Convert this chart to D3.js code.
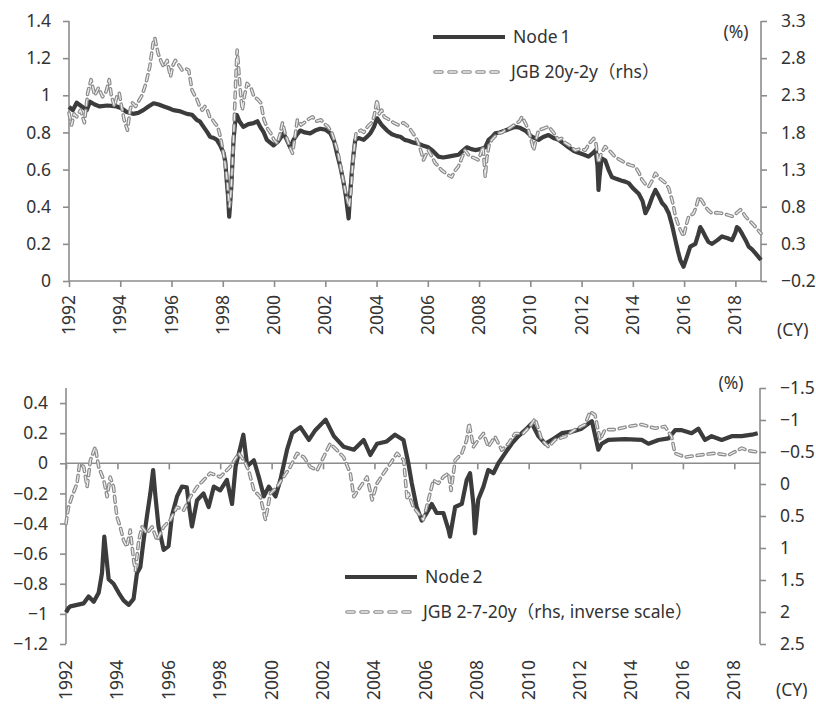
<!DOCTYPE html>
<html>
<head>
<meta charset="utf-8">
<script src="https://cdn.jsdelivr.net/npm/d3@7"></script>
<style>
  body { margin: 0; background: #fff; }
  svg { display: block; font-family: "Noto Sans", "Noto Sans CJK JP", sans-serif; }
</style>
</head>
<body>
<svg id="chart" width="816" height="704"></svg>
<script>
// ---------------- DATA ----------------
const yearTicks = [1992, 1994, 1996, 1998, 2000, 2002, 2004, 2006, 2008, 2010, 2012, 2014, 2016, 2018];

const topLeftTicks = [0, 0.2, 0.4, 0.6, 0.8, 1, 1.2, 1.4];
const topRightTicks = [-0.2, 0.3, 0.8, 1.3, 1.8, 2.3, 2.8, 3.3];
const bottomLeftTicks = [-1.2, -1, -0.8, -0.6, -0.4, -0.2, 0, 0.2, 0.4];
const bottomRightTicks = [-1.5, -1, -0.5, 0, 0.5, 1, 1.5, 2, 2.5];

const node1Dates = [1992.0,1992.15,1992.3,1992.5,1992.69,1992.82,1993.0,1993.2,1993.5,1993.86,1994.05,1994.25,1994.5,1994.7,1994.9,1995.1,1995.3,1995.5,1995.7,1995.9,1996.07,1996.3,1996.6,1996.8,1996.99,1997.1,1997.25,1997.4,1997.5,1997.65,1997.77,1997.9,1998.03,1998.1,1998.16,1998.21,1998.25,1998.29,1998.33,1998.38,1998.42,1998.48,1998.55,1998.65,1998.8,1999.0,1999.2,1999.35,1999.46,1999.6,1999.72,1999.85,1999.98,2000.15,2000.37,2000.5,2000.63,2000.76,2000.9,2001.02,2001.2,2001.41,2001.6,2001.8,2002.0,2002.2,2002.35,2002.45,2002.58,2002.7,2002.8,2002.91,2002.96,2003.03,2003.1,2003.17,2003.3,2003.5,2003.65,2003.76,2003.9,2004.02,2004.2,2004.41,2004.6,2004.8,2004.93,2005.1,2005.24,2005.45,2005.63,2005.8,2006.02,2006.2,2006.41,2006.6,2006.8,2007.0,2007.2,2007.35,2007.52,2007.7,2007.85,2008.05,2008.24,2008.37,2008.5,2008.63,2008.8,2009.02,2009.2,2009.41,2009.6,2009.8,2010.06,2010.32,2010.5,2010.71,2010.9,2011.1,2011.3,2011.49,2011.7,2011.88,2012.1,2012.27,2012.45,2012.55,2012.62,2012.66,2012.7,2012.78,2012.92,2013.05,2013.18,2013.35,2013.57,2013.7,2013.84,2014.0,2014.23,2014.38,2014.49,2014.62,2014.75,2014.88,2015.0,2015.14,2015.27,2015.4,2015.53,2015.66,2015.76,2015.85,2015.98,2016.11,2016.24,2016.44,2016.55,2016.63,2016.72,2016.83,2016.95,2017.09,2017.3,2017.48,2017.7,2017.87,2018.0,2018.06,2018.15,2018.26,2018.4,2018.52,2018.65,2018.78,2018.9,2019.0];
const node1Values = [0.937,0.92,0.96,0.94,0.92,0.965,0.95,0.94,0.945,0.94,0.93,0.91,0.90,0.905,0.92,0.94,0.957,0.95,0.94,0.93,0.92,0.915,0.90,0.895,0.867,0.86,0.83,0.80,0.777,0.77,0.76,0.73,0.69,0.64,0.53,0.45,0.346,0.42,0.5,0.65,0.76,0.85,0.894,0.86,0.83,0.845,0.85,0.86,0.83,0.80,0.76,0.745,0.73,0.75,0.795,0.76,0.72,0.76,0.79,0.81,0.80,0.795,0.81,0.82,0.815,0.795,0.75,0.69,0.62,0.54,0.46,0.337,0.45,0.58,0.68,0.76,0.77,0.76,0.78,0.795,0.83,0.876,0.84,0.81,0.79,0.78,0.777,0.76,0.755,0.745,0.74,0.73,0.72,0.70,0.67,0.665,0.67,0.675,0.68,0.70,0.72,0.71,0.705,0.71,0.72,0.76,0.775,0.795,0.80,0.81,0.82,0.83,0.825,0.81,0.777,0.76,0.775,0.786,0.77,0.76,0.74,0.72,0.70,0.69,0.68,0.67,0.69,0.705,0.62,0.49,0.56,0.66,0.65,0.6,0.56,0.55,0.54,0.535,0.527,0.5,0.47,0.43,0.365,0.40,0.45,0.49,0.46,0.42,0.40,0.365,0.30,0.22,0.16,0.113,0.077,0.13,0.185,0.20,0.25,0.29,0.27,0.24,0.21,0.20,0.22,0.24,0.23,0.22,0.26,0.29,0.28,0.255,0.22,0.185,0.17,0.15,0.13,0.113];

const jgb20y2yDates = [1992.0,1992.1,1992.2,1992.3,1992.45,1992.6,1992.73,1992.86,1993.0,1993.05,1993.15,1993.31,1993.45,1993.57,1993.65,1993.77,1993.88,1993.96,1994.05,1994.15,1994.28,1994.38,1994.47,1994.6,1994.73,1994.85,1995.0,1995.15,1995.28,1995.35,1995.42,1995.48,1995.6,1995.7,1995.83,1995.96,1996.05,1996.15,1996.3,1996.41,1996.55,1996.67,1996.8,1996.9,1997.0,1997.1,1997.2,1997.3,1997.4,1997.5,1997.6,1997.7,1997.8,1997.9,1997.98,1998.08,1998.17,1998.26,1998.32,1998.37,1998.44,1998.5,1998.56,1998.6,1998.63,1998.7,1998.76,1998.85,1998.95,1999.1,1999.22,1999.35,1999.48,1999.61,1999.75,1999.87,2000.0,2000.13,2000.25,2000.33,2000.42,2000.52,2000.62,2000.72,2000.82,2000.91,2001.05,2001.17,2001.35,2001.5,2001.65,2001.83,2001.95,2002.1,2002.25,2002.35,2002.48,2002.6,2002.7,2002.8,2002.93,2003.0,2003.06,2003.13,2003.2,2003.39,2003.5,2003.65,2003.8,2003.9,2004.02,2004.1,2004.2,2004.3,2004.45,2004.67,2004.85,2005.05,2005.24,2005.4,2005.5,2005.63,2005.73,2005.83,2005.93,2006.02,2006.15,2006.28,2006.4,2006.54,2006.7,2006.82,2006.93,2007.05,2007.19,2007.32,2007.45,2007.58,2007.7,2007.85,2007.96,2008.05,2008.15,2008.2,2008.24,2008.3,2008.4,2008.5,2008.63,2008.76,2008.9,2009.02,2009.15,2009.28,2009.45,2009.58,2009.67,2009.8,2009.93,2010.03,2010.13,2010.22,2010.32,2010.5,2010.71,2010.9,2011.1,2011.22,2011.36,2011.55,2011.75,2011.95,2012.14,2012.3,2012.47,2012.56,2012.66,2012.75,2012.92,2013.1,2013.31,2013.5,2013.7,2013.9,2014.1,2014.25,2014.36,2014.5,2014.62,2014.75,2014.88,2015.05,2015.27,2015.4,2015.53,2015.6,2015.66,2015.75,2015.85,2015.98,2016.08,2016.18,2016.28,2016.37,2016.47,2016.57,2016.7,2016.83,2016.95,2017.09,2017.3,2017.48,2017.7,2017.87,2018.0,2018.2,2018.3,2018.39,2018.52,2018.65,2018.8,2019.0];
const jgb20y2yValues = [2.06,1.9,2.05,2.01,2.1,1.93,2.33,2.51,2.3,2.33,2.4,2.28,2.35,2.51,2.3,2.15,2.3,2.33,2.15,1.97,1.83,2.1,2.2,2.15,2.23,2.3,2.46,2.68,3.0,3.07,2.95,2.86,2.75,2.68,2.77,2.55,2.7,2.77,2.7,2.64,2.66,2.64,2.37,2.3,2.24,2.15,2.1,2.15,2.1,2.0,1.97,1.92,1.88,1.75,1.61,1.4,1.16,0.8,1.0,1.34,1.9,2.46,2.91,2.75,2.6,2.3,2.1,2.3,2.46,2.4,2.28,2.25,2.2,1.97,1.85,1.79,1.7,1.65,1.8,1.93,1.8,1.7,1.6,1.52,1.75,1.97,1.9,1.93,1.98,2.01,1.95,1.97,1.92,1.88,1.8,1.7,1.55,1.34,1.15,0.98,0.8,1.0,1.34,1.6,1.79,1.83,1.8,1.88,1.93,2.01,2.24,2.05,2.1,2.01,1.98,1.93,1.9,1.93,1.88,1.8,1.75,1.66,1.55,1.43,1.5,1.56,1.48,1.39,1.35,1.29,1.25,1.22,1.2,1.28,1.34,1.45,1.56,1.5,1.47,1.45,1.43,1.5,1.61,1.4,1.2,1.45,1.65,1.7,1.75,1.79,1.8,1.83,1.85,1.88,1.92,1.95,2.01,1.93,1.83,1.7,1.56,1.7,1.83,1.85,1.88,1.8,1.7,1.72,1.66,1.62,1.56,1.58,1.56,1.65,1.72,1.65,1.39,1.5,1.61,1.55,1.47,1.43,1.39,1.36,1.34,1.25,1.16,1.1,1.07,1.15,1.25,1.18,1.12,1.05,0.89,0.78,0.67,0.58,0.49,0.4,0.55,0.67,0.69,0.71,0.8,0.93,0.88,0.8,0.75,0.71,0.72,0.71,0.69,0.67,0.7,0.76,0.72,0.67,0.62,0.58,0.52,0.44];

const node2Dates = [1992.0,1992.1,1992.17,1992.43,1992.69,1992.88,1993.08,1993.27,1993.4,1993.49,1993.57,1993.66,1993.85,1994.05,1994.24,1994.44,1994.63,1994.76,1994.89,1995.02,1995.15,1995.28,1995.39,1995.48,1995.6,1995.8,1995.99,1996.12,1996.32,1996.51,1996.7,1996.8,1996.9,1997.1,1997.35,1997.55,1997.75,1998.0,1998.26,1998.46,1998.6,1998.79,1998.9,1999.05,1999.31,1999.5,1999.7,1999.89,2000.15,2000.34,2000.6,2000.8,2001.12,2001.45,2001.7,2002.1,2002.42,2002.8,2003.2,2003.58,2003.84,2004.1,2004.48,2004.8,2005.13,2005.32,2005.45,2005.64,2005.84,2006.03,2006.23,2006.42,2006.68,2006.88,2006.94,2007.14,2007.4,2007.59,2007.72,2007.85,2007.91,2008.04,2008.24,2008.43,2008.63,2008.82,2009.08,2009.34,2009.6,2009.86,2010.12,2010.38,2010.64,2010.9,2011.29,2011.68,2012.06,2012.46,2012.71,2012.84,2013.1,2013.75,2014.4,2014.66,2015.05,2015.44,2015.7,2015.96,2016.34,2016.6,2016.86,2017.12,2017.51,2017.9,2018.29,2018.68,2018.91];
const node2Values = [-0.99,-0.96,-0.95,-0.94,-0.93,-0.885,-0.92,-0.86,-0.73,-0.487,-0.62,-0.77,-0.80,-0.86,-0.91,-0.94,-0.90,-0.73,-0.69,-0.51,-0.35,-0.2,-0.045,-0.22,-0.42,-0.575,-0.55,-0.35,-0.22,-0.155,-0.16,-0.3,-0.42,-0.245,-0.2,-0.29,-0.155,-0.18,-0.11,-0.27,-0.02,0.11,0.19,-0.02,0.02,-0.09,-0.22,-0.155,-0.22,-0.11,0.09,0.2,0.24,0.155,0.22,0.29,0.18,0.11,0.09,0.155,0.055,0.13,0.145,0.19,0.155,0.0,-0.13,-0.29,-0.38,-0.33,-0.27,-0.33,-0.33,-0.44,-0.487,-0.29,-0.27,-0.11,-0.066,-0.27,-0.465,-0.24,-0.155,-0.044,-0.066,0,0.066,0.13,0.18,0.22,0.265,0.18,0.13,0.155,0.2,0.21,0.23,0.28,0.09,0.13,0.155,0.16,0.155,0.13,0.155,0.165,0.22,0.22,0.2,0.23,0.155,0.18,0.155,0.18,0.18,0.19,0.2];

const jgb2720Dates = [1992.0,1992.04,1992.1,1992.23,1992.43,1992.53,1992.69,1992.82,1992.95,1993.14,1993.27,1993.47,1993.6,1993.72,1993.85,1993.92,1993.98,1994.11,1994.24,1994.37,1994.5,1994.63,1994.7,1994.83,1994.96,1995.15,1995.35,1995.54,1995.8,1996.06,1996.32,1996.58,1996.84,1997.1,1997.35,1997.61,1998.0,1998.39,1998.72,1998.92,1999.11,1999.31,1999.56,1999.76,1999.95,2000.21,2000.47,2000.73,2000.99,2001.25,2001.5,2001.77,2002.02,2002.28,2002.54,2002.8,2003.06,2003.2,2003.45,2003.71,2003.91,2004.1,2004.36,2004.62,2004.88,2005.14,2005.27,2005.32,2005.51,2005.71,2005.9,2006.1,2006.29,2006.49,2006.68,2006.88,2006.98,2007.14,2007.4,2007.59,2007.68,2007.85,2008.04,2008.24,2008.43,2008.69,2008.95,2009.21,2009.47,2009.79,2010.05,2010.25,2010.51,2010.77,2011.03,2011.42,2011.8,2012.19,2012.39,2012.58,2012.78,2012.97,2013.36,2013.88,2014.4,2014.92,2015.3,2015.56,2015.69,2016.08,2016.6,2017.25,2017.77,2018.29,2018.55,2018.91];
const jgb2720Values = [0.62,0.5,0.36,0.2,-0.01,-0.32,-0.27,0.044,-0.37,-0.58,-0.27,-0.06,0.2,-0.11,0.05,0.31,0.51,0.67,0.88,0.98,0.72,1.19,1.35,0.88,0.67,0.77,0.67,0.88,0.67,0.56,0.36,0.41,0.2,0.044,-0.06,-0.17,-0.11,-0.27,-0.48,-0.37,-0.21,0.1,0.2,0.56,0.15,0.044,-0.11,-0.27,-0.48,-0.42,-0.27,-0.21,-0.42,-0.63,-0.53,-0.42,-0.17,0.2,0.044,-0.11,0.25,-0.01,-0.17,-0.32,-0.48,-0.37,0.25,0.15,0.36,0.46,0.56,0.25,-0.06,-0.01,-0.11,-0.17,0.1,-0.37,-0.48,-0.69,-0.95,-0.58,-0.69,-0.79,-0.58,-0.74,-0.53,-0.63,-0.79,-0.79,-0.9,-1.02,-0.69,-0.58,-0.69,-0.74,-0.85,-0.93,-1.13,-1.08,-0.69,-0.85,-0.85,-0.9,-0.93,-0.87,-0.9,-0.74,-0.48,-0.42,-0.45,-0.48,-0.45,-0.56,-0.52,-0.5];

// ---------------- DRAW ----------------
const svg = d3.select("#chart");
const AXIS = "#8c8c8c", TEXT = "#333333", DARK = "#3c3c3c", DASH_OUT = "#8a8a8a", DASH_IN = "#ececec";
const FS = 17.5;

function zip(ds, vs) { return ds.map((d, i) => [d, vs[i]]); }

function drawPanel(cfg) {
  const x = d3.scaleLinear().domain([1992, 2019]).range([cfg.left, cfg.right]);
  const yL = d3.scaleLinear().domain(cfg.leftDomain).range([cfg.bottom, cfg.top]);
  const yR = d3.scaleLinear().domain(cfg.rightDomain).range([cfg.bottom, cfg.top]);
  const g = svg.append("g");

  const la = g.append("g").attr("transform", `translate(${cfg.left},0)`)
    .call(d3.axisLeft(yL).tickValues(cfg.leftTicks).tickSize(6).tickPadding(12).tickFormat(d => d3.format("")(+d.toFixed(2))));
  la.select(".domain").attr("d", `M0,${cfg.top}V${cfg.bottom}`);
  const ra = g.append("g").attr("transform", `translate(${cfg.right},0)`)
    .call(d3.axisRight(yR).tickValues(cfg.rightTicks).tickSize(6).tickPadding(14).tickFormat(d => d3.format("")(+d.toFixed(2))));
  ra.select(".domain").attr("d", `M0,${cfg.top}V${cfg.bottom}`);

  [la, ra].forEach(a => {
    a.selectAll(".domain, .tick line").attr("stroke", AXIS).attr("stroke-width", 1.6);
    a.selectAll("text").attr("fill", TEXT).style("font-size", FS + "px").style("font-family", "Noto Sans");
  });

  const xAxisY = yL(cfg.xAxisAt);
  const xa = g.append("g").attr("transform", `translate(0,${xAxisY})`)
    .call(d3.axisBottom(x).tickValues(yearTicks).tickSize(6).tickFormat(""));
  xa.select(".domain").attr("d", `M${cfg.left},0H${cfg.right}`);
  xa.selectAll(".domain, .tick line").attr("stroke", AXIS).attr("stroke-width", 1.6);

  g.append("g").selectAll("text").data(yearTicks).join("text")
    .attr("transform", d => `translate(${x(d) + 6},${cfg.bottom + cfg.labelGap}) rotate(-90)`)
    .attr("text-anchor", "end")
    .attr("fill", TEXT).style("font-size", FS + "px")
    .text(d => d);

  g.append("text").attr("x", cfg.right + 16).attr("y", cfg.cyY).attr("fill", TEXT)
    .style("font-size", FS + "px").text("(CY)");
  g.append("text").attr("x", cfg.pctX).attr("y", cfg.pctY).attr("text-anchor", "middle").attr("fill", TEXT)
    .style("font-size", FS + "px").text("(%)");

  const lineL = d3.line().x(d => x(d[0])).y(d => yL(d[1]));
  const lineR = d3.line().x(d => x(d[0])).y(d => yR(d[1]));
  g.append("path").datum(zip(cfg.nodeDates, cfg.nodeValues)).attr("d", lineL)
    .attr("fill", "none").attr("stroke", DARK).attr("stroke-width", 4.2).attr("stroke-linejoin", "round");
  const jd = zip(cfg.jgbDates, cfg.jgbValues);
  g.append("path").datum(jd).attr("d", lineR)
    .attr("fill", "none").attr("stroke", DASH_OUT).attr("stroke-width", 3.6)
    .attr("stroke-dasharray", "6 5").attr("stroke-linecap", "round").attr("stroke-linejoin", "round");
  g.append("path").datum(jd).attr("d", lineR)
    .attr("fill", "none").attr("stroke", DASH_IN).attr("stroke-width", 1.3)
    .attr("stroke-dasharray", "6 5").attr("stroke-linecap", "round").attr("stroke-linejoin", "round");

  const lg = g.append("g");
  lg.append("line").attr("x1", cfg.legX).attr("x2", cfg.legX + 72).attr("y1", cfg.legY).attr("y2", cfg.legY)
    .attr("stroke", DARK).attr("stroke-width", 4);
  const t1 = lg.append("text").attr("x", cfg.legX + 80).attr("y", cfg.legY).attr("dy", "0.35em")
    .attr("fill", TEXT).style("font-size", FS + "px");
  t1.append("tspan").text(cfg.nodeName.slice(0, 4));
  t1.append("tspan").attr("dx", 3).text(cfg.nodeName.slice(4));
  const ly2 = cfg.legY + 35;
  lg.append("line").attr("x1", cfg.legX + 2).attr("x2", cfg.legX + 70).attr("y1", ly2).attr("y2", ly2)
    .attr("stroke", DASH_OUT).attr("stroke-width", 3.6).attr("stroke-linecap", "round").attr("stroke-dasharray", "7 7");
  lg.append("line").attr("x1", cfg.legX + 2).attr("x2", cfg.legX + 70).attr("y1", ly2).attr("y2", ly2)
    .attr("stroke", DASH_IN).attr("stroke-width", 1.3).attr("stroke-linecap", "round").attr("stroke-dasharray", "7 7");
  lg.append("text").attr("x", cfg.legX + 78).attr("y", ly2).attr("dy", "0.35em")
    .attr("fill", TEXT).style("font-size", FS + "px").text(cfg.jgbName);
}

drawPanel({
  left: 69, right: 761, top: 21, bottom: 281,
  leftDomain: [0, 1.4], rightDomain: [-0.2, 3.3],
  leftTicks: topLeftTicks, rightTicks: topRightTicks, xAxisAt: 0,
  labelGap: 14, cyY: 336, pctX: 736, pctY: 38,
  nodeDates: node1Dates, nodeValues: node1Values, jgbDates: jgb20y2yDates, jgbValues: jgb20y2yValues,
  legX: 433, legY: 37, nodeName: "Node1", jgbName: "JGB 20y-2y（rhs）"
});

drawPanel({
  left: 66, right: 760, top: 388, bottom: 644,
  leftDomain: [-1.2, 0.5], rightDomain: [2.5, -1.5],
  leftTicks: bottomLeftTicks, rightTicks: bottomRightTicks, xAxisAt: 0,
  labelGap: 16, cyY: 696, pctX: 731, pctY: 389,
  nodeDates: node2Dates, nodeValues: node2Values, jgbDates: jgb2720Dates, jgbValues: jgb2720Values,
  legX: 345, legY: 577, nodeName: "Node2", jgbName: "JGB 2-7-20y（rhs, inverse scale）"
});
</script>
</body>
</html>
